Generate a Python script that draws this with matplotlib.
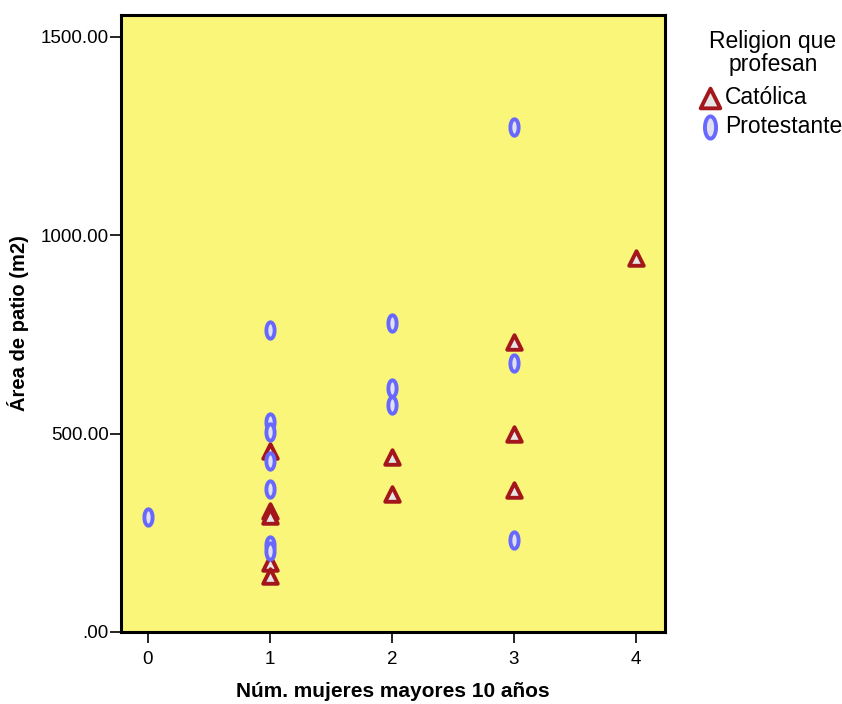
import matplotlib
matplotlib.use('Agg')
import matplotlib.pyplot as plt
from matplotlib.path import Path
from matplotlib.ticker import FuncFormatter
import numpy as np

plt.rcParams['font.family'] = ['Liberation Sans', 'DejaVu Sans']

# data
catolica_x = [1, 1, 1, 1, 1, 2, 2, 3, 3, 3, 4]
catolica_y = [457, 305, 293, 174, 141, 440, 348, 730, 500, 358, 942]

protestante_x = [0, 1, 1, 1, 1, 1, 1, 1, 2, 2, 2, 3, 3, 3]
protestante_y = [290, 760, 529, 503, 432, 361, 220, 205, 778, 614, 571, 1273, 679, 232]

x_ticks = [0, 1, 2, 3, 4]
y_ticks = [0, 500, 1000, 1500]

# oval marker
t = np.linspace(0, 2 * np.pi, 60)
oval = Path(np.column_stack([0.5 * np.cos(t), np.sin(t)]), closed=True)

fig = plt.figure(figsize=(8.42, 7.04), dpi=100)
ax = fig.add_axes([0.1437, 0.1023, 0.6461, 0.8764])
ax.set_facecolor('#faf67a')

ax.scatter(catolica_x, catolica_y, marker='^', s=110, facecolor='#e6e6e6',
           edgecolor='#a3161c', linewidth=2.8, label='Católica', zorder=3)
ax.scatter(protestante_x, protestante_y, marker=oval, s=140, facecolor='#e0e0ee',
           edgecolor='#6868ff', linewidth=2.8, label='Protestante', zorder=3)

ax.set_xlim(-0.22, 4.24)
ax.set_ylim(0, 1555)
ax.set_xticks(x_ticks)
ax.set_yticks(y_ticks)

def fmt(v, pos):
    s = f'{v:.2f}'
    return s[1:] if s.startswith('0') else s

ax.yaxis.set_major_formatter(FuncFormatter(fmt))
ax.tick_params(axis='both', labelsize=13.5, length=8, width=1.2, direction='out')
ax.tick_params(axis='y', pad=1)
ax.tick_params(axis='x', pad=6)

for sp in ax.spines.values():
    sp.set_linewidth(2.2)

ax.set_xlabel('Núm. mujeres mayores 10 años', fontsize=15, fontweight='bold', labelpad=10)
ax.set_ylabel('Área de patio (m2)', fontsize=14.5, fontweight='bold', labelpad=8)

fig.text(773 / 842, 1 - 53 / 704, 'Religion que\nprofesan', ha='center', va='center',
         fontsize=16.5, linespacing=0.95)

leg = fig.legend(loc='upper left', bbox_to_anchor=(0.8296, 0.878), frameon=False,
                 fontsize=16.5, handletextpad=0.15, borderaxespad=0, borderpad=0,
                 labelspacing=0.25, handlelength=1.0, markerscale=1.35)

fig.savefig('out.png', dpi=100, facecolor='white')
